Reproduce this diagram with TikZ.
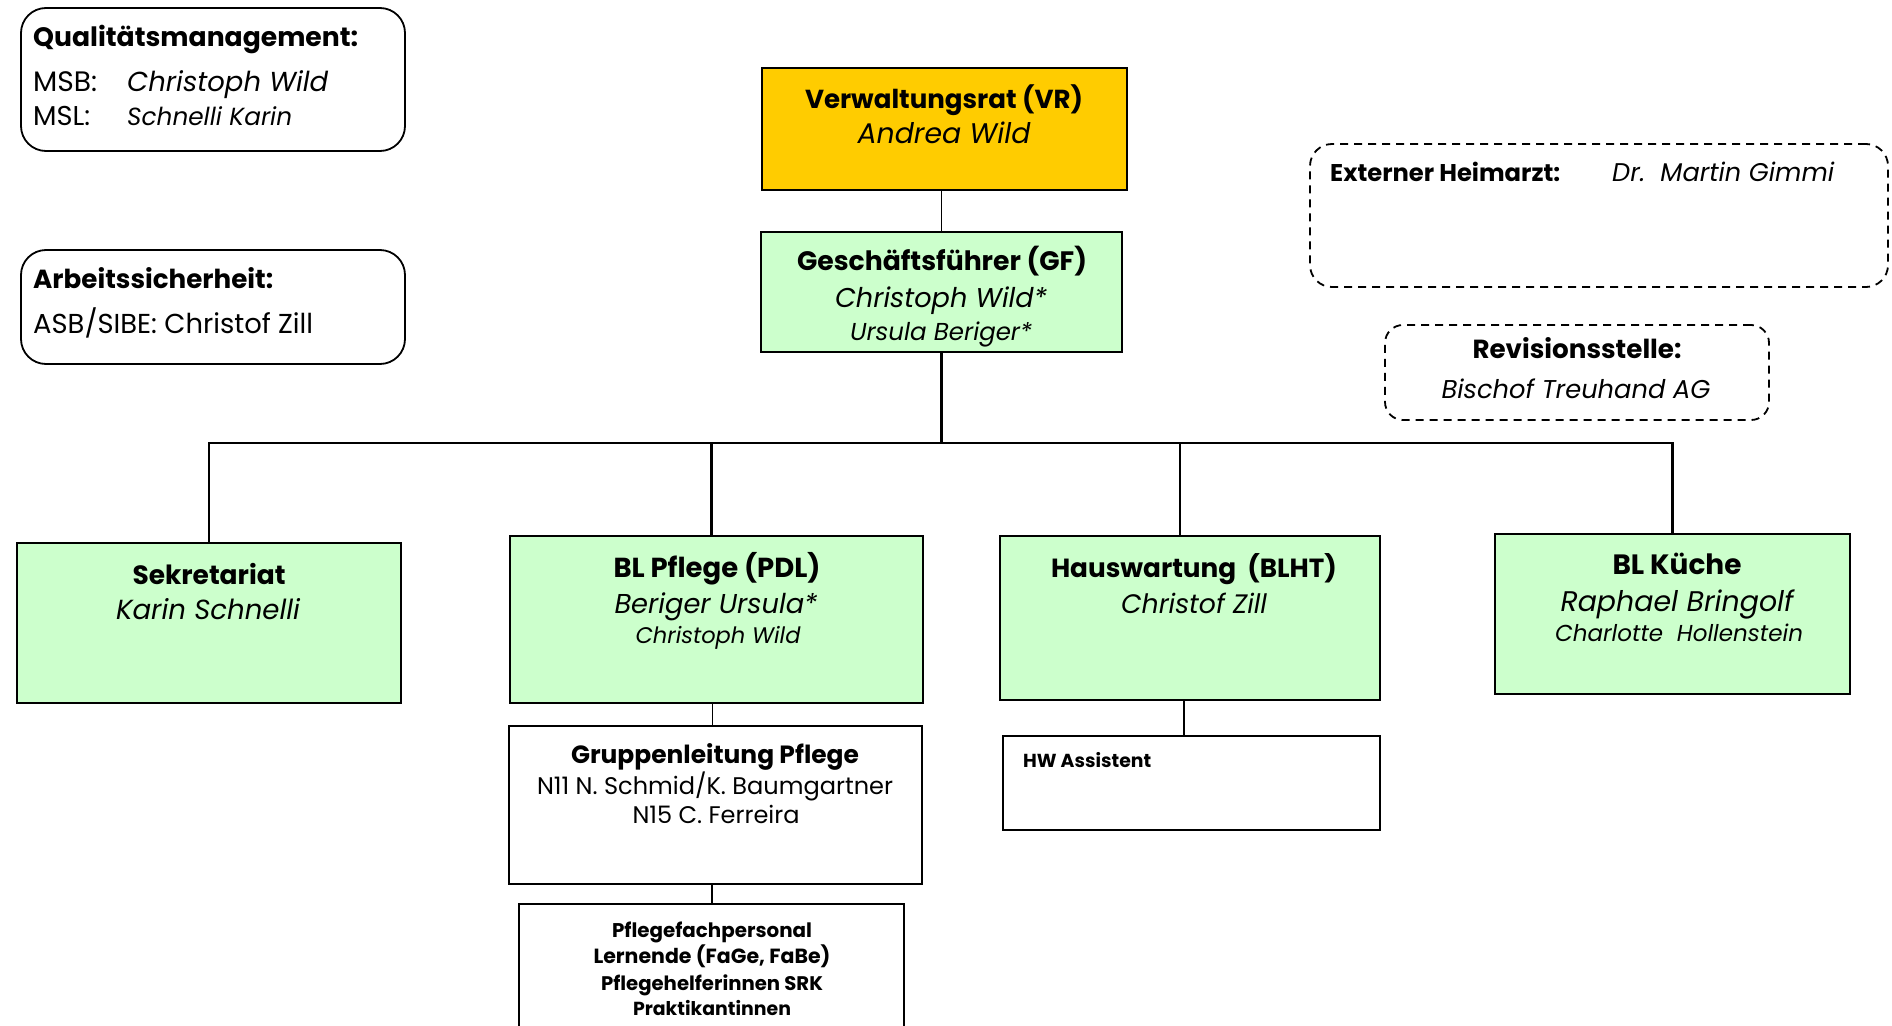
\documentclass[tikz,border=0pt]{standalone}
\usepackage{fontspec}
\setmainfont{Poppins}
\definecolor{vrgold}{HTML}{FFCC00}
\definecolor{boxgreen}{HTML}{CCFFCC}
\newcommand\fitw[3]{\setbox0\hbox{\fontsize{10}{12}\selectfont#1#3}\pgfmathsetmacro\fitsz{10*#2/\the\wd0}\fontsize{\fitsz}{\fitsz}\selectfont#1#3}
\begin{document}
\begin{tikzpicture}[x=1pt,y=-1pt,
  box/.style={draw=black, line width=1.8pt, rectangle, inner sep=0},
  gbox/.style={box, fill=boxgreen},
  rbox/.style={box, rounded corners=25pt},
  dbox/.style={box, rounded corners=22pt, dash pattern=on 8pt off 6pt},
  txt/.style={anchor=base, inner sep=0},
  txtw/.style={anchor=base west, inner sep=0},
  conn/.style={line width=1.6pt},
  busline/.style={line width=2.4pt}]
\useasboundingbox (0,0) rectangle (1892,1025);
\clip (0,0) rectangle (1892,1025);

% boxes
\node[rbox, minimum width=384, minimum height=143] (qm) at (213,79.5) {};
\node[rbox, minimum width=384, minimum height=114] (as) at (213,307) {};
\node[box, fill=vrgold, minimum width=365, minimum height=122] (vr) at (944.5,129) {};
\node[gbox, minimum width=361, minimum height=120] (gf) at (941.5,292) {};
\node[dbox, minimum width=578, minimum height=143] (ext) at (1599,215.5) {};
\node[dbox, rounded corners=18pt, minimum width=384, minimum height=95] (rev) at (1577,372.5) {};
\node[gbox, minimum width=384, minimum height=160] (sek) at (209,623) {};
\node[gbox, minimum width=413, minimum height=167] (pfl) at (716.5,619.5) {};
\node[gbox, minimum width=380, minimum height=164] (haus) at (1190,618) {};
\node[gbox, minimum width=355, minimum height=160] (kue) at (1672.5,614) {};
\node[box, minimum width=413, minimum height=158] (gl) at (715.5,805) {};
\node[box, minimum width=385, minimum height=141] (pfp) at (711.5,974.5) {};
\node[box, minimum width=377, minimum height=94] (hwa) at (1191.5,783) {};

% connectors
\coordinate (bus) at (941.5,443);
\draw[conn] (gf.north |- vr.south) -- (gf.north);
\draw[line width=3pt] (gf.south) -- (bus);
\draw[busline] (sek.north) |- (bus) -| (kue.north);
\draw[busline] ([xshift=-5pt]pfl.north) -- ([xshift=-5pt]pfl.north |- bus);
\draw[busline] ([xshift=-10pt]haus.north) -- ([xshift=-10pt]haus.north |- bus);
\draw[conn] ([xshift=-4pt]pfl.south) -- ([xshift=-4pt]pfl.south |- gl.north);
\draw[conn] ([xshift=-3.5pt]gl.south) -- ([xshift=-3.5pt]gl.south |- pfp.north);
\draw[conn] ([xshift=-6pt]haus.south) -- ([xshift=-6pt]haus.south |- hwa.north);

% texts
\node[txtw] (qm1) at (33,47) {\fitw{\bfseries}{325}{Qualitätsmanagement:}};
\node[txtw] (qm2) at (33,91) {\fitw{}{64}{MSB:}};
\node[txtw] (qm3) at (127,91) {\fitw{\itshape}{201}{Christoph Wild}};
\node[txtw] (qm4) at (33,125) {\fitw{}{57}{MSL:}};
\node[txtw] (qm5) at (127,125) {\fitw{\itshape}{165}{Schnelli Karin}};
\node[txtw] (as1) at (33,288) {\fitw{\bfseries}{240}{Arbeitssicherheit:}};
\node[txtw] (as2) at (33,333) {\fitw{}{280}{ASB/SIBE: Christof Zill}};

\node[txtw] (ext1) at (1330,181) {\fitw{\bfseries}{230}{Externer Heimarzt:}};
\node[txtw] (ext2) at (1612,181) {\fitw{\itshape}{222}{Dr.~~Martin Gimmi}};
\node[txt] (rev1) at (1577,358) {\fitw{\bfseries}{209}{Revisionsstelle:}};
\node[txt] (rev2) at (1576,398) {\fitw{\itshape}{269}{Bischof Treuhand AG}};

\node[txt] (vr1) at (944,108) {\fitw{\bfseries}{278}{Verwaltungsrat (VR)}};
\node[txt] (vr2) at (944,143) {\fitw{\itshape}{173}{Andrea Wild}};
\node[txt] (gf1) at (942,270) {\fitw{\bfseries}{290}{Geschäftsführer (GF)}};
\node[txt] (gf2) at (941,307) {\fitw{\itshape}{212}{Christoph Wild*}};
\node[txt] (gf3) at (941,340) {\fitw{\itshape}{182}{Ursula Beriger*}};

\node[txt] (sek1) at (209,584) {\fitw{\bfseries}{153}{Sekretariat}};
\node[txt] (sek2) at (208,619) {\fitw{\itshape}{184}{Karin Schnelli}};
\node[txt] (pfl1) at (717,577) {\fitw{\bfseries}{207}{BL Pflege (PDL)}};
\node[txt] (pfl2) at (716,613) {\fitw{\itshape}{203}{Beriger Ursula*}};
\node[txt] (pfl3) at (718,643) {\fitw{\itshape}{165}{Christoph Wild}};
\node[txt] (haus1) at (1194,577) {\fitw{\bfseries}{286}{Hauswartung~~(BLHT)}};
\node[txt] (haus2) at (1194,613) {\fitw{\itshape}{146}{Christof Zill}};
\node[txt] (kue1) at (1677,574) {\fitw{\bfseries}{129}{BL Küche}};
\node[txt] (kue2) at (1677,611) {\fitw{\itshape}{233}{Raphael Bringolf}};
\node[txt] (kue3) at (1679,641) {\fitw{\itshape}{248}{Charlotte~~Hollenstein}};

\node[txt] (gl1) at (715,763) {\fitw{\bfseries}{288}{Gruppenleitung Pflege}};
\node[txt] (gl2) at (715,794) {\fitw{}{356}{N11 N. Schmid/K. Baumgartner}};
\node[txt] (gl3) at (716,823) {\fitw{}{167}{N15 C. Ferreira}};

\node[txt] (pfp1) at (712,937) {\fitw{\bfseries}{200}{Pflegefachpersonal}};
\node[txt] (pfp2) at (712,963) {\fitw{\bfseries}{237}{Lernende (FaGe, FaBe)}};
\node[txt] (pfp3) at (712,990) {\fitw{\bfseries}{222}{Pflegehelferinnen SRK}};
\node[txt] (pfp4) at (712,1015) {\fitw{\bfseries}{158}{Praktikantinnen}};

\node[txtw] (hwa1) at (1023,767) {\fitw{\bfseries}{128}{HW Assistent}};
\end{tikzpicture}
\end{document}
